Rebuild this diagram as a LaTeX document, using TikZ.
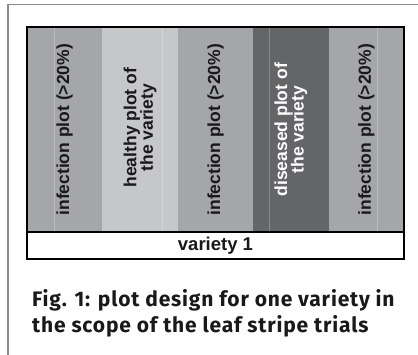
\documentclass[tikz,border=0pt]{standalone}
\usepackage{fontspec}
\setmainfont{Liberation Sans}
\newfontfamily\capfont[LetterSpace=4]{Fira Sans}
\usepackage{tikz}
\usetikzlibrary{positioning}
\definecolor{infgray}{HTML}{A5A6A9}
\definecolor{healthgray}{HTML}{C6C7C9}
\definecolor{disgray}{HTML}{646567}
\definecolor{framegray}{HTML}{8A8A8A}

\begin{document}
\begin{tikzpicture}[x=1pt, y=-1pt]
	\tikzset{
	  plot/.style={draw=none, shape=rectangle,
	             inner sep=0pt, outer sep=0pt,
	             minimum width=75.4pt,
	             minimum height=204.5pt},
	  lbl/.style={rotate=90, align=center,
	             font=\fontsize{17.5}{16.5}\selectfont\bfseries,
	             text=black!90},
	  seam/.style={white, opacity=0.25, line width=0.6pt},
	  captxt/.style={anchor=base west, inner sep=0pt,
	             font=\capfont\fontsize{21}{26}\selectfont\bfseries,
	             text=black!90}
	}
	\useasboundingbox (0,0) rectangle (418,355);

	% outer frame (open to the right and below)
	\draw[framegray, line width=1.5pt] (418,4.5) -- (8,4.5) -- (8,355);

	\node[plot, anchor=north west, fill=infgray] (inf1) at (27,27.5) {};
	\node[plot, right=0pt of inf1, fill=healthgray] (healthy) {};
	\node[plot, right=0pt of healthy, fill=infgray] (inf2) {};
	\node[plot, right=0pt of inf2, fill=disgray] (diseased) {};
	\node[plot, right=0pt of diseased, fill=infgray] (inf3) {};

	% faint seams inside the plots
	\draw[seam] (54,27.5) -- (54,232)
	            (162,27.5) -- (162,232)
	            (269,27.5) -- (269,232)
	            (377,27.5) -- (377,232);

	\node[lbl] at (inf1) {infection plot (>20\%)};
	\node[lbl, xshift=2pt] at (healthy) {healthy plot of\\the variety};
	\node[lbl] at (inf2) {infection plot (>20\%)};
	\node[lbl, text=white] at (diseased) {diseased plot of\\the variety};
	\node[lbl] at (inf3) {infection plot (>20\%)};

	\node[font=\fontsize{18.5}{20}\selectfont\bfseries, text=black!90] (variety) at (215.5,246) {variety 1};

	\draw[line width=2pt] (27,27.5) rectangle (404,259.5);
	\draw[line width=1.8pt] (27,232) -- (404,232);

	\node[captxt] (cap1) at (32,307) {Fig. 1: plot design for one variety in};
	\node[captxt] (cap2) at (32,333) {the scope of the leaf stripe trials};
\end{tikzpicture}
\end{document}
